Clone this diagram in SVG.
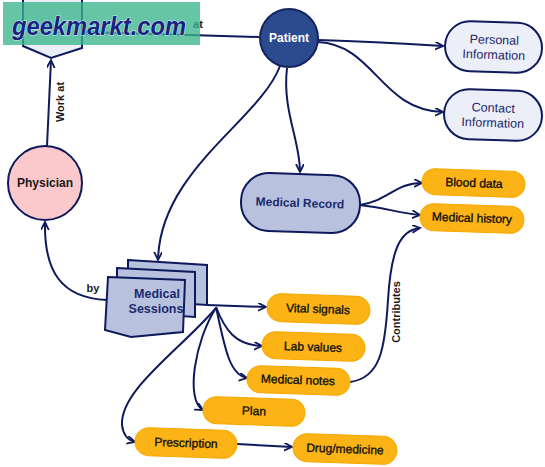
<svg xmlns="http://www.w3.org/2000/svg" width="545" height="467" viewBox="0 0 545 467">
<defs>
<marker id="arr" markerWidth="10" markerHeight="10" refX="8" refY="4" orient="auto" markerUnits="userSpaceOnUse">
<path d="M0,0 L8,4 L0,8" fill="none" stroke="#0f1a5c" stroke-width="1.8"/>
</marker>
<style>
.c{fill:none;stroke:#0f1a5c;stroke-width:2}
.pill{fill:#fbb316;stroke:#f6a800;stroke-width:1}
.pt{font-family:"Liberation Sans",Arial,sans-serif;font-size:12px;fill:#111111;stroke:#111111;stroke-width:0.35;text-anchor:middle}
.nv{font-family:"Liberation Sans",Arial,sans-serif;font-size:12.5px;fill:#1a2a6c;text-anchor:middle}
.bn{font-family:"Liberation Sans",Arial,sans-serif;font-size:12px;font-weight:bold;fill:#1a2a6c;text-anchor:middle}
.lb{font-family:"Liberation Sans",Arial,sans-serif;font-size:11px;font-weight:bold;fill:#1a1a1a;text-anchor:middle}
.info{fill:#eceef8;stroke:#0f1a5c;stroke-width:2}
.doc{fill:#b8c2de;stroke:#0f1a5c;stroke-width:2}
</style>
</defs>
<rect width="545" height="467" fill="#ffffff"/>

<g id="connectors">
<path class="c" d="M259 37 C200 35 150 34 84 32" marker-end="url(#arr)"/>
<text class="lb" x="198" y="28">at</text>
<path class="c" d="M47 146 L51 60" marker-end="url(#arr)"/>
<text class="lb" transform="translate(64 102) rotate(-90)">Work at</text>
<path class="c" d="M107 300 C60 298 44 270 45 222" marker-end="url(#arr)"/>
<text class="lb" x="93" y="292">by</text>
<path class="c" d="M318 40 C380 42 410 44 443 46" marker-end="url(#arr)"/>
<path class="c" d="M318 42 C375 45 380 110 443 112" marker-end="url(#arr)"/>
<path class="c" d="M287 68 C282 110 300 140 300 172" marker-end="url(#arr)"/>
<path class="c" d="M280 66 C260 120 160 170 158 260" marker-end="url(#arr)"/>
<path class="c" d="M360 205 C390 200 395 183 422 183" marker-end="url(#arr)"/>
<path class="c" d="M360 205 C385 208 400 213 420 215" marker-end="url(#arr)"/>
<path class="c" d="M350 382 C380 378 385 350 388 300 C391 250 400 230 420 228" marker-end="url(#arr)"/>
<text class="lb" transform="translate(400 312) rotate(-90)">Contributes</text>
<path class="c" d="M207 305 L266 307" marker-end="url(#arr)"/>
<path class="c" d="M216 307 C225 330 235 345 262 346" marker-end="url(#arr)"/>
<path class="c" d="M216 307 C225 350 230 375 247 378" marker-end="url(#arr)"/>
<path class="c" d="M216 308 C195 340 185 400 203 410" marker-end="url(#arr)"/>
<path class="c" d="M216 308 C180 350 120 390 122 425 C123 435 128 440 135 442" marker-end="url(#arr)"/>
<path class="c" d="M237 444 L292 447" marker-end="url(#arr)"/>
</g>

<g id="site">
<polygon points="23,-3 82,-3 82,48 51,58 23,46" fill="#eceef8" stroke="#0f1a5c" stroke-width="2"/>
<text class="nv" x="52" y="33" style="font-size:11px">Site</text>
</g>

<g id="patient">
<circle cx="289" cy="38" r="29" fill="#2c4a8e" stroke="#14245e" stroke-width="2"/>
<text class="bn" x="289" y="42" style="fill:#ffffff">Patient</text>
</g>

<g id="personal-information" transform="rotate(2 494 47)">
<rect class="info" x="445" y="22" width="97" height="50" rx="25"/>
<text class="nv" x="494" y="44">Personal</text>
<text class="nv" x="494" y="59">Information</text>
</g>

<g id="contact-information" transform="rotate(2 493 115)">
<rect class="info" x="444" y="90" width="98" height="50" rx="25"/>
<text class="nv" x="493" y="112">Contact</text>
<text class="nv" x="493" y="127">Information</text>
</g>

<g id="physician">
<circle cx="45" cy="183" r="37" fill="#fbc8cc" stroke="#0f1a5c" stroke-width="2"/>
<text class="bn" x="45" y="187" style="fill:#1a1a1a">Physician</text>
</g>

<g id="medical-record" transform="rotate(2 300 203)">
<rect x="241" y="174" width="119" height="58" rx="28" fill="#b8c2de" stroke="#0f1a5c" stroke-width="2"/>
<text class="bn" x="300" y="207">Medical Record</text>
</g>

<g id="medical-sessions">
<polygon class="doc" points="128,260 207,265 207,305 128,300"/>
<polygon class="doc" points="117,268 195,272 195,317 117,312"/>
<path class="doc" d="M108 277 L185 280 L183 332 L131 337 L105 330 Z"/>
<text class="bn" x="157" y="298" style="font-size:12.5px">Medical</text>
<text class="bn" x="156" y="313" style="font-size:12.5px">Sessions</text>
</g>

<g id="blood-data" transform="rotate(2 474 183)">
<rect class="pill" x="422" y="170" width="103" height="26" rx="13"/>
<text class="pt" x="474" y="187">Blood data</text>
</g>

<g id="medical-history" transform="rotate(2 472 218)">
<rect class="pill" x="420" y="205" width="104" height="27" rx="13.5"/>
<text class="pt" x="472" y="222">Medical history</text>
</g>

<g id="vital-signals" transform="rotate(2 318 309)">
<rect class="pill" x="267" y="295" width="103" height="28" rx="14"/>
<text class="pt" x="318" y="313">Vital signals</text>
</g>

<g id="lab-values" transform="rotate(2 313 347)">
<rect class="pill" x="262" y="333" width="103" height="27" rx="13.5"/>
<text class="pt" x="313" y="351">Lab values</text>
</g>

<g id="medical-notes" transform="rotate(2 298 380)">
<rect class="pill" x="247" y="367" width="103" height="27" rx="13.5"/>
<text class="pt" x="298" y="384">Medical notes</text>
</g>

<g id="plan" transform="rotate(2 254 411)">
<rect class="pill" x="203" y="398" width="102" height="27" rx="13.5"/>
<text class="pt" x="254" y="415">Plan</text>
</g>

<g id="prescription" transform="rotate(2 186 443)">
<rect class="pill" x="135" y="429" width="102" height="28" rx="14"/>
<text class="pt" x="186" y="447">Prescription</text>
</g>

<g id="drug-medicine" transform="rotate(2 345 449)">
<rect class="pill" x="293" y="435" width="104" height="28" rx="14"/>
<text class="pt" x="345" y="453">Drug/medicine</text>
</g>

<g id="watermark">
<rect x="3" y="2" width="197" height="43" fill="#3ab58a" fill-opacity="0.78"/>
<text x="12" y="35" textLength="174" lengthAdjust="spacingAndGlyphs" style="font-family:'Liberation Sans',Arial,sans-serif;font-size:25px;font-weight:bold;font-style:italic;fill:#1a237e;stroke:#c9ecff;stroke-width:1.2;paint-order:stroke">geekmarkt.com</text>
</g>
</svg>
